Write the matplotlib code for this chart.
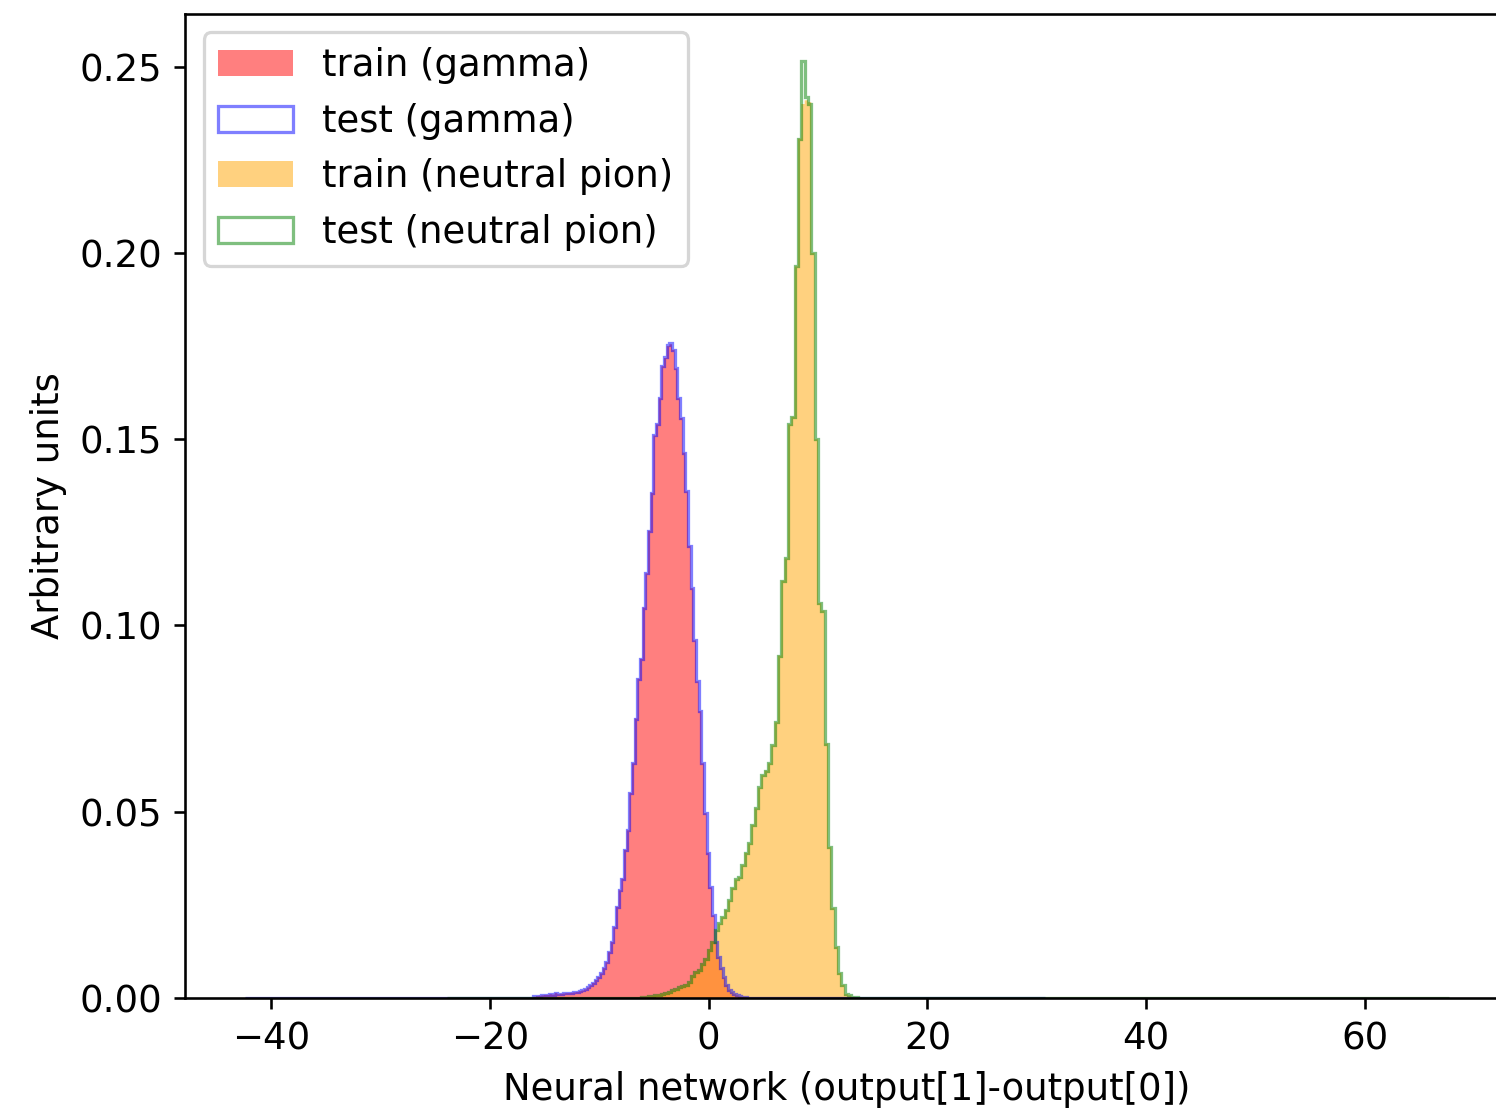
import numpy as np
import matplotlib
matplotlib.use("Agg")
import matplotlib.pyplot as plt

# binning (each class histogrammed over its own range, 300 bins)
n_bins = 300
gamma_range = (-42.4, 30.8)
pion_range = (-23.9, 67.7)

# density values of the non empty bins
gamma_first_bin = 108
train_gamma = [
    0.0003, 0.0005, 0.0006, 0.0007, 0.0008, 0.0008, 0.0010, 0.0009, 0.0013, 0.0010,
    0.0011, 0.0012, 0.0013, 0.0013, 0.0014, 0.0015, 0.0016, 0.0018, 0.0020, 0.0023,
    0.0028, 0.0034, 0.0040, 0.0048, 0.0056, 0.0066, 0.0080, 0.0096, 0.0123, 0.0150,
    0.0190, 0.0244, 0.0289, 0.0320, 0.0397, 0.0450, 0.0550, 0.0630, 0.0750, 0.0857,
    0.0910, 0.1048, 0.1140, 0.1254, 0.1356, 0.1510, 0.1540, 0.1610, 0.1696, 0.1718,
    0.1750, 0.1755, 0.1740, 0.1690, 0.1610, 0.1557, 0.1464, 0.1360, 0.1214, 0.1100,
    0.0960, 0.0850, 0.0770, 0.0630, 0.0496, 0.0390, 0.0297, 0.0222, 0.0150, 0.0110,
    0.0080, 0.0055, 0.0035, 0.0022, 0.0015, 0.0010, 0.0007, 0.0004, 0.0003, 0.0002,
    0.0001,
]
test_gamma = [
    0.0004, 0.0005, 0.0006, 0.0007, 0.0008, 0.0009, 0.0010, 0.0009, 0.0014, 0.0010,
    0.0011, 0.0012, 0.0013, 0.0013, 0.0014, 0.0015, 0.0016, 0.0018, 0.0020, 0.0023,
    0.0028, 0.0034, 0.0040, 0.0048, 0.0056, 0.0066, 0.0080, 0.0096, 0.0123, 0.0150,
    0.0190, 0.0244, 0.0289, 0.0320, 0.0397, 0.0450, 0.0550, 0.0630, 0.0750, 0.0857,
    0.0910, 0.1048, 0.1140, 0.1254, 0.1356, 0.1510, 0.1540, 0.1610, 0.1696, 0.1720,
    0.1752, 0.1757, 0.1740, 0.1690, 0.1610, 0.1557, 0.1464, 0.1360, 0.1214, 0.1100,
    0.0960, 0.0850, 0.0770, 0.0630, 0.0496, 0.0390, 0.0297, 0.0222, 0.0150, 0.0110,
    0.0080, 0.0055, 0.0035, 0.0022, 0.0015, 0.0010, 0.0007, 0.0004, 0.0003, 0.0002,
    0.0001,
]

pion_first_bin = 56
train_pion = [
    0.0001, 0.0001, 0.0002, 0.0003, 0.0004, 0.0005, 0.0007, 0.0009, 0.0011, 0.0014,
    0.0017, 0.0020, 0.0024, 0.0028, 0.0032, 0.0036, 0.0042, 0.0060, 0.0070, 0.0075,
    0.0090, 0.0105, 0.0129, 0.0150, 0.0182, 0.0200, 0.0217, 0.0236, 0.0262, 0.0295,
    0.0318, 0.0324, 0.0356, 0.0389, 0.0415, 0.0464, 0.0509, 0.0565, 0.0598, 0.0610,
    0.0630, 0.0678, 0.0740, 0.0919, 0.1120, 0.1180, 0.1540, 0.1560, 0.1964, 0.2307,
    0.2400, 0.2410, 0.2405, 0.2000, 0.1500, 0.1060, 0.1040, 0.0683, 0.0405, 0.0241,
    0.0137, 0.0067, 0.0035, 0.0010, 0.0007, 0.0003, 0.0002, 0.0001,
]
test_pion = [
    0.0001, 0.0001, 0.0002, 0.0003, 0.0004, 0.0005, 0.0007, 0.0009, 0.0011, 0.0014,
    0.0017, 0.0020, 0.0024, 0.0028, 0.0032, 0.0036, 0.0042, 0.0060, 0.0070, 0.0075,
    0.0090, 0.0105, 0.0129, 0.0150, 0.0182, 0.0200, 0.0217, 0.0236, 0.0262, 0.0295,
    0.0318, 0.0324, 0.0356, 0.0389, 0.0415, 0.0464, 0.0509, 0.0565, 0.0598, 0.0610,
    0.0630, 0.0678, 0.0740, 0.0919, 0.1120, 0.1180, 0.1540, 0.1560, 0.1964, 0.2307,
    0.2516, 0.2420, 0.2400, 0.2000, 0.1500, 0.1060, 0.1040, 0.0683, 0.0405, 0.0241,
    0.0137, 0.0067, 0.0035, 0.0010, 0.0007, 0.0003, 0.0002, 0.0001,
]


def full_hist(values, first_bin, lo, hi):
    edges = np.linspace(lo, hi, n_bins + 1)
    heights = np.zeros(n_bins)
    heights[first_bin:first_bin + len(values)] = values
    centers = 0.5 * (edges[:-1] + edges[1:])
    return centers, edges, heights


def main():
    plt.rcParams['font.size'] = 11.4
    fig = plt.figure(figsize=(1496 / 234, 1115 / 234), dpi=234)
    # the reference is cropped on the right: the right spine falls just outside
    ax = fig.add_axes([0.1237, 0.105, 0.885, 0.8825])

    c, e, h = full_hist(train_gamma, gamma_first_bin, *gamma_range)
    ax.hist(c, bins=e, weights=h, histtype='stepfilled', color='red', alpha=0.5,
            label='train (gamma)')
    c, e, h = full_hist(test_gamma, gamma_first_bin, *gamma_range)
    ax.hist(c, bins=e, weights=h, histtype='step', color='blue', alpha=0.5,
            label='test (gamma)')
    c, e, h = full_hist(train_pion, pion_first_bin, *pion_range)
    ax.hist(c, bins=e, weights=h, histtype='stepfilled', color='orange', alpha=0.5,
            label='train (neutral pion)')
    c, e, h = full_hist(test_pion, pion_first_bin, *pion_range)
    ax.hist(c, bins=e, weights=h, histtype='step', color='green', alpha=0.5,
            label='test (neutral pion)')

    ax.set_xlabel("Neural network (output[1]-output[0])")
    ax.set_ylabel("Arbitrary units")
    ax.legend(loc='upper left')

    fig.savefig("out.png", dpi=234)


if __name__ == "__main__":
    main()
